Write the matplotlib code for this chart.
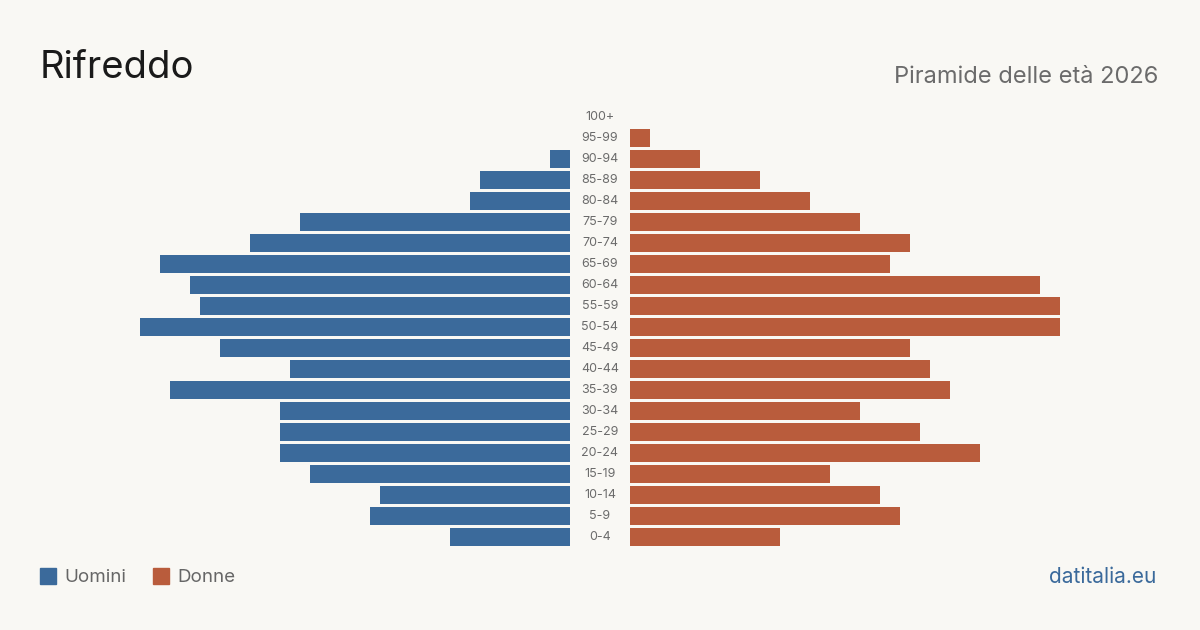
import matplotlib
matplotlib.use('Agg')
import matplotlib.pyplot as plt
import matplotlib.transforms as mtransforms
from matplotlib.patches import Rectangle

age_groups = ['0-4', '5-9', '10-14', '15-19', '20-24', '25-29', '30-34', '35-39',
              '40-44', '45-49', '50-54', '55-59', '60-64', '65-69', '70-74', '75-79',
              '80-84', '85-89', '90-94', '95-99', '100+']
men = [12, 20, 19, 26, 29, 29, 29, 40, 28, 35, 43, 37, 38, 41, 32, 27, 10, 9, 2, 0, 0]
women = [15, 27, 25, 20, 35, 29, 23, 32, 30, 28, 43, 43, 41, 26, 28, 23, 18, 13, 7, 2, 0]

BG = '#f9f8f4'
BLUE = '#3b6a9b'
ORANGE = '#b95c3c'

plt.rcParams['font.family'] = ['Inter', 'DejaVu Sans']

fig = plt.figure(figsize=(12, 6.3), dpi=100, facecolor=BG)

W, H = 1200, 630
bottom = (H - 547.5) / H
height = 441 / H
ax_l = fig.add_axes([140 / W, bottom, 430 / W, height])
ax_r = fig.add_axes([630 / W, bottom, 430 / W, height])

ypos = list(range(len(age_groups)))
ax_l.barh(ypos, men, height=0.81, color=BLUE)
ax_r.barh(ypos, women, height=0.81, color=ORANGE)

for ax in (ax_l, ax_r):
    ax.set_ylim(-0.5, len(age_groups) - 0.5)
    ax.set_facecolor('none')
    ax.axis('off')
ax_l.set_xlim(43, 0)
ax_r.set_xlim(0, 43)

# age labels in the middle gap
trans = mtransforms.blended_transform_factory(fig.transFigure, ax_l.transData)
for y, lab in zip(ypos, age_groups):
    fig.text(600 / W, y, lab, transform=trans, ha='center', va='center',
             fontsize=9, color='#6b6b6b')

fig.text(40 / W, 1 - 68 / H, 'Rifreddo', fontsize=27.5, color='#1a1a1a',
         ha='left', va='center')
fig.text(1158 / W, 1 - 77 / H, 'Piramide delle età 2026', fontsize=17,
         color='#6b6b6b', ha='right', va='center')

# legend
fig.patches.append(Rectangle((40 / W, 1 - 584 / H), 16 / W, 16 / H,
                             transform=fig.transFigure, color=BLUE))
fig.text(64 / W, 1 - 577 / H, 'Uomini', fontsize=13.5, color='#666666',
         ha='left', va='center')
fig.patches.append(Rectangle((153 / W, 1 - 584 / H), 16 / W, 16 / H,
                             transform=fig.transFigure, color=ORANGE))
fig.text(177 / W, 1 - 577 / H, 'Donne', fontsize=13.5, color='#666666',
         ha='left', va='center')

fig.text(1156 / W, 1 - 577 / H, 'datitalia.eu', fontsize=15, color=BLUE,
         ha='right', va='center')

fig.savefig('out.png', dpi=100, facecolor=BG)
